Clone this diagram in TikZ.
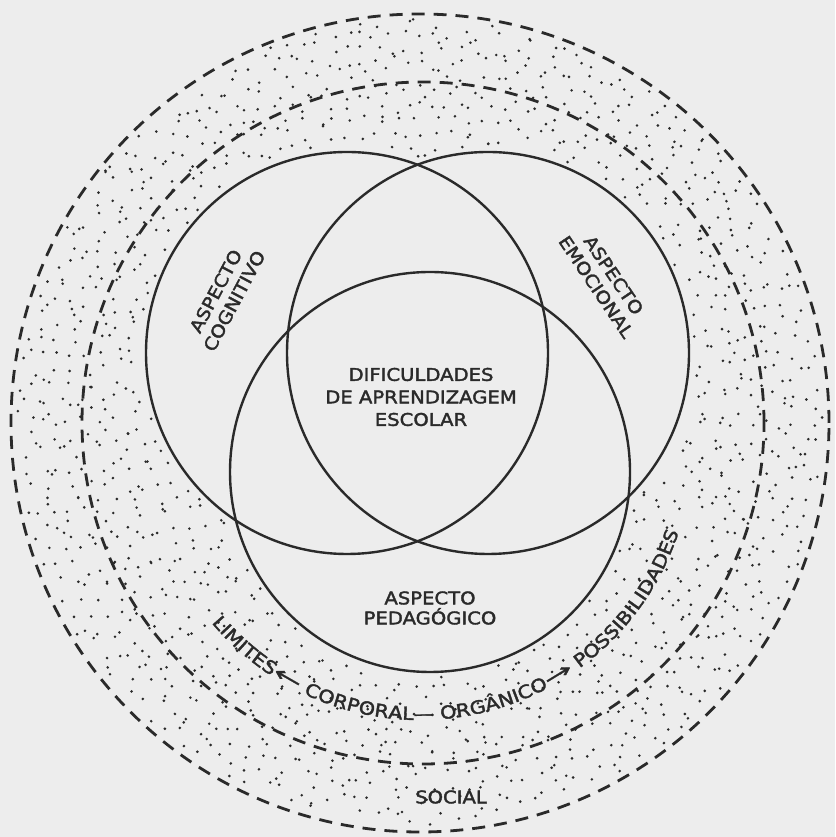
\documentclass[tikz,border=0pt]{standalone}
\usepackage{fontspec}
\usetikzlibrary{decorations.text}
\newfontfamily\lettering[FakeStretch=1.12, FakeBold=2]{DejaVu Sans}
\newfontfamily\arclettershape[FakeStretch=1.15, FakeBold=2]{DejaVu Sans}
\newfontfamily\arrowglyphs[FakeStretch=1.7, FakeBold=1]{DejaVu Sans}
\definecolor{ink}{RGB}{42,42,42}
\definecolor{paper}{RGB}{237,237,237}
\newcommand\arclettering{\arclettershape\fontsize{18}{20}\selectfont\color{ink}}
\newcommand\arcarrows{\arrowglyphs\fontsize{21}{20}\selectfont\color{ink}}
\begin{document}
\begin{tikzpicture}[x=1pt,y=1pt,
  ring/.style={draw=ink, line width=2.8pt, dash pattern=on 13pt off 9pt},
  aspectcircle/.style={draw=ink, line width=2.4pt},
  lbl/.style={text=ink, font=\lettering\fontsize{17.5}{21}\selectfont, align=center, inner sep=0pt},
  stipple/.style={fill=ink}]
\fill[paper] (0,0) rectangle (835,837);
\useasboundingbox (0,0) rectangle (835,837);
% stippled field: jittered grid inside the outer ring, outside the three aspect circles
\foreach \gx in {0,...,57}{
  \foreach \gy in {0,...,57}{
    \pgfmathsetmacro{\px}{0.12+0.145*\gx+0.045*(sin(7919*sin(\gx*12.9898+\gy*78.233))+sin(3571*sin(\gx*63.7+\gy*21.1+5)))}
    \pgfmathsetmacro{\py}{0.06+0.145*\gy+0.045*(sin(6007*sin(\gx*39.346+\gy*11.135+17))+sin(4409*sin(\gx*27.3+\gy*91.9+3)))}
    \pgfmathtruncatemacro{\ok}{((\px-4.20)^2+(\py-4.14)^2<4.04^2) && ((\px-3.47)^2+(\py-4.84)^2>2.06^2) && ((\px-4.88)^2+(\py-4.84)^2>2.06^2) && ((\px-4.30)^2+(\py-3.65)^2>2.05^2)}
    \ifnum\ok=1 \fill[stipple] (100*\px,100*\py) circle (1.45pt);\fi
  }
}
% dashed rings
\draw[ring] (420,414) circle (409);
\draw[ring] (423,414) circle (341);
% three aspect circles
\draw[aspectcircle] (347,484) circle (201);
\draw[aspectcircle] (488,484) circle (201);
\draw[aspectcircle] (430,365) circle (200);
% labels
\node[lbl, rotate=62] (cognitivo) at (225,541) {ASPECTO\\COGNITIVO};
\node[lbl, rotate=-56] (emocional) at (605,556) {ASPECTO\\EMOCIONAL};
\node[lbl, font=\lettering\fontsize{17.5}{22.5}\selectfont] (dificuldades) at (421,440) {DIFICULDADES\\DE APRENDIZAGEM\\ESCOLAR};
\node[lbl, font=\lettering\fontsize{17.5}{20}\selectfont] (pedagogico) at (430,229) {ASPECTO\\PEDAG\'OGICO};
\node[lbl] (social) at (451,40) {SOCIAL};
% curved text along the bottom
\path[decorate, decoration={text along path, text align=center,
  text={|\arclettering|LIMITES|\arcarrows|←|\arclettering| CORPORAL— ORGÂNICO|\arcarrows|→|\arclettering| POSSIBILIDADES}}]
  (164.4,296) arc[start angle=200, end angle=362, radius=272];
\end{tikzpicture}
\end{document}
